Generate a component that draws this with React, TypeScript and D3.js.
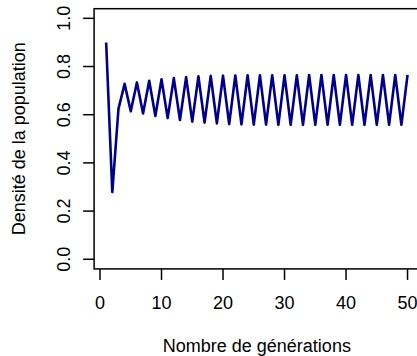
import React from "react";
import * as d3 from "d3";

const generations: number[] = Array.from({ length: 50 }, (_, i) => i + 1);
const density: number[] = [
  0.9, 0.279, 0.624, 0.728, 0.614, 0.734, 0.605, 0.741, 0.595, 0.747,
  0.586, 0.752, 0.578, 0.756, 0.571, 0.759, 0.567, 0.761, 0.564, 0.762,
  0.561, 0.763, 0.560, 0.764, 0.559, 0.764, 0.559, 0.764, 0.558, 0.764,
  0.558, 0.764, 0.558, 0.765, 0.558, 0.765, 0.558, 0.765, 0.558, 0.765,
  0.558, 0.765, 0.558, 0.765, 0.558, 0.765, 0.558, 0.765, 0.558, 0.765,
];
const xTicks: number[] = [0, 10, 20, 30, 40, 50];
const yTicks: number[] = [0, 0.2, 0.4, 0.6, 0.8, 1.0];
const xLabel = "Nombre de générations";
const yLabel = "Densité de la population";

export default function App() {
  const W = 417, H = 356;
  const left = 94.1, right = 419.6, top = 8.7, bottom = 268.9;
  const xExt = [1, 50];
  const pad = (xExt[1] - xExt[0]) * 0.04;
  const x = d3.scaleLinear().domain([xExt[0] - pad, xExt[1] + pad]).range([left, right]);
  const y = d3.scaleLinear().domain([-0.04, 1.04]).range([bottom, top]);
  const line = d3.line<number>().x((_, i) => x(generations[i])).y((d) => y(d));
  const font = "'Liberation Sans', Arial, Helvetica, sans-serif";
  const fs = 18;
  const tick = 11;
  return (
    <svg width={W} height={H} style={{ position: "absolute", left: 0, top: 0 }} fontFamily={font}>
      <rect x={0} y={0} width={W} height={H} fill="white" />
      <path d={line(density) || ""} fill="none" stroke="#00008B" strokeWidth={2.6} strokeLinejoin="round" />
      <rect x={left} y={top} width={right - left} height={bottom - top} fill="none" stroke="#000" strokeWidth={1.5} />
      {xTicks.map((t) => (
        <g key={"x" + t}>
          <line x1={x(t)} x2={x(t)} y1={bottom} y2={bottom + tick} stroke="#000" strokeWidth={1.5} />
          <text x={x(t)} y={309} textAnchor="middle" fontSize={fs}>
            {d3.format("d")(t)}
          </text>
        </g>
      ))}
      {yTicks.map((t) => (
        <g key={"y" + t}>
          <line x1={left} x2={left - tick} y1={y(t)} y2={y(t)} stroke="#000" strokeWidth={1.5} />
          <text transform={`translate(69.5,${y(t)}) rotate(-90)`} textAnchor="middle" fontSize={fs}>
            {d3.format(".1f")(t)}
          </text>
        </g>
      ))}
      <text x={(left + right) / 2} y={352} textAnchor="middle" fontSize={fs}>
        {xLabel}
      </text>
      <text transform={`translate(25,${(top + bottom) / 2}) rotate(-90)`} textAnchor="middle" fontSize={fs}>
        {yLabel}
      </text>
    </svg>
  );
}
